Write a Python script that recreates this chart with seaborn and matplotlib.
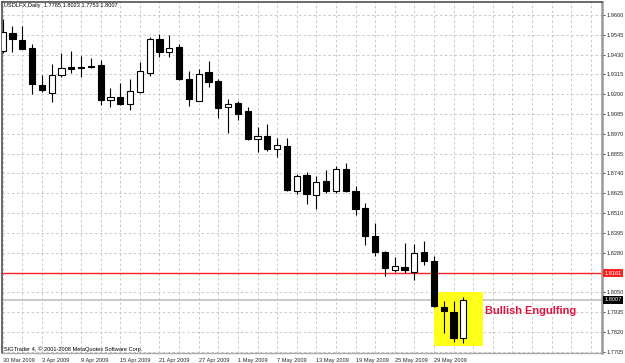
import pandas as pd
import matplotlib.pyplot as plt
import matplotlib.patches as mpatches
import matplotlib.transforms as mtransforms
import seaborn as sns

# Daily candles, USDLFX, from 30 Mar 2009 (one per weekday)
symbol = 'USDLFX,Daily'
opens = [1.9453, 1.9557, 1.9515, 1.9468, 1.9252, 1.9209, 1.9310, 1.9356, 1.9358, 1.9356,
         1.9370, 1.9166, 1.9182, 1.9143, 1.9213, 1.9321, 1.9521, 1.9443, 1.9472, 1.9288,
         1.9162, 1.9331, 1.9277, 1.9124, 1.9147, 1.9103, 1.8938, 1.8959, 1.8882, 1.8899,
         1.8640, 1.8731, 1.8615, 1.8696, 1.8640, 1.8766, 1.8638, 1.8538, 1.8377, 1.8282,
         1.8179, 1.8198, 1.8170, 1.8282, 1.8232, 1.7965, 1.7937, 1.7785]
highs = [1.9635, 1.9596, 1.9596, 1.9490, 1.9311, 1.9374, 1.9438, 1.9451, 1.9424, 1.9408,
         1.9399, 1.9234, 1.9263, 1.9287, 1.9389, 1.9530, 1.9548, 1.9546, 1.9492, 1.9333,
         1.9348, 1.9393, 1.9290, 1.9171, 1.9162, 1.9124, 1.9008, 1.9027, 1.8947, 1.8947,
         1.8737, 1.8747, 1.8725, 1.8760, 1.8783, 1.8802, 1.8667, 1.8567, 1.8454, 1.8291,
         1.8257, 1.8338, 1.8330, 1.8349, 1.8260, 1.7999, 1.7999, 1.8023]
lows = [1.9440, 1.9447, 1.9462, 1.9201, 1.9215, 1.9156, 1.9300, 1.9321, 1.9298, 1.9355,
        1.9135, 1.9127, 1.9140, 1.9108, 1.9210, 1.9307, 1.9414, 1.9418, 1.9283, 1.9132,
        1.9160, 1.9240, 1.9062, 1.8973, 1.9050, 1.8937, 1.8866, 1.8872, 1.8837, 1.8638,
        1.8619, 1.8561, 1.8532, 1.8628, 1.8628, 1.8635, 1.8499, 1.8325, 1.8261, 1.8145,
        1.8170, 1.8160, 1.8121, 1.8208, 1.7967, 1.7811, 1.7763, 1.7753]
closes = [1.9560, 1.9522, 1.9464, 1.9259, 1.9224, 1.9310, 1.9354, 1.9348, 1.9352, 1.9365,
          1.9166, 1.9182, 1.9143, 1.9219, 1.9336, 1.9519, 1.9443, 1.9467, 1.9287, 1.9172,
          1.9317, 1.9269, 1.9122, 1.9143, 1.9085, 1.8938, 1.8957, 1.8880, 1.8905, 1.8644,
          1.8727, 1.8619, 1.8689, 1.8638, 1.8764, 1.8638, 1.8534, 1.8377, 1.8286, 1.8189,
          1.8202, 1.8179, 1.8276, 1.8232, 1.7970, 1.7942, 1.7786, 1.8007]

price_ticks = [1.9660, 1.9545, 1.9430, 1.9315, 1.9200, 1.9085, 1.8970, 1.8855, 1.8740,
               1.8625, 1.8510, 1.8395, 1.8280, 1.8050, 1.7935, 1.7820, 1.7705]
date_labels = ['30 Mar 2009', '3 Apr 2009', '9 Apr 2009', '15 Apr 2009', '21 Apr 2009',
               '27 Apr 2009', '1 May 2009', '7 May 2009', '13 May 2009', '19 May 2009',
               '25 May 2009', '29 May 2009']
bid_line = 1.8161
pattern_name = 'Bullish Engulfing'
copyright_text = 'SIGTrader 4, \u00a9 2001-2008 MetaQuotes Software Corp.'

sns.set_theme(style='white')
plt.rcParams['font.family'] = ['Liberation Sans', 'DejaVu Sans']

df = pd.DataFrame({'open': opens, 'high': highs, 'low': lows, 'close': closes})
df['date'] = pd.bdate_range('2009-03-30', periods=len(df))
df['bar'] = range(len(df))
df['up'] = df['close'] >= df['open']

fig = plt.figure(figsize=(6.25, 3.63), dpi=100)
ax = fig.add_axes([2 / 625, 10 / 363, 600 / 625, 351 / 363])

# grid
ax.set_xticks(range(0, 62, 2), minor=True)
ax.grid(True, which='both', axis='x', color='#cdc6c6', lw=0.7, ls=(0, (2.5, 2.5)), zorder=0)
ax.grid(True, which='major', axis='y', color='#cdc6c6', lw=0.7, ls=(0, (2.5, 2.5)), zorder=0)

# level lines
ax.axhline(closes[-1], color='#c8c8c8', lw=1.4, zorder=1)
ax.axhline(bid_line, color='#ff2020', lw=1.0, zorder=1)

# highlight box for the pattern
ax.add_patch(mpatches.Rectangle((44, 1.7739), 5.0, 0.0310, facecolor='#ffff1a',
                                edgecolor='none', zorder=2))

# candles
ax.vlines(df['bar'], df['low'], df['high'], color='black', lw=0.8, zorder=3)
body = (df['close'] - df['open']).abs().clip(lower=0.00012)
bottom = df[['open', 'close']].min(axis=1)
ax.bar(df['bar'], body, bottom=bottom, width=0.64,
       color=['white' if u else 'black' for u in df['up']],
       edgecolor='black', linewidth=0.8, zorder=4)

ax.text(49.2, 1.7940, pattern_name, color='#dc143c', fontsize=7.9, fontweight='bold',
        va='center', ha='left', zorder=5)

ax.set_xlim(-0.07, 61.15)
ax.set_ylim(1.76975, 1.97355)

# axes / ticks
tick_pos = [df.index[df['date'] == pd.to_datetime(d)][0] for d in date_labels]
ax.set_xticks(tick_pos)
ax.set_xticklabels(date_labels, ha='left', fontsize=4.1)
ax.tick_params(axis='x', which='major', length=2.5, width=0.6, pad=1, color='#333333')
ax.tick_params(axis='x', which='minor', length=0)
ax.yaxis.tick_right()
ax.set_yticks(price_ticks)
ax.set_yticklabels([f'{p:.4f}' for p in price_ticks], fontsize=4.1)
ax.tick_params(axis='y', length=2, width=0.6, pad=1, color='#333333', right=True, left=False)

for side in ['left', 'top']:
    ax.spines[side].set_color('#505050')
    ax.spines[side].set_linewidth(1.2)
ax.spines['right'].set_color('#999999')
ax.spines['right'].set_linewidth(1.8)
ax.spines['bottom'].set_color('#aaaaaa')
ax.spines['bottom'].set_linewidth(1.0)

# price labels on the right axis
trans = mtransforms.blended_transform_factory(ax.transAxes, ax.transData)
ax.text(1.004, bid_line, f'{bid_line:.4f}', transform=trans, fontsize=4.1, color='white',
        va='center', ha='left', clip_on=False, zorder=6,
        bbox=dict(boxstyle='square,pad=0.25', fc='#ff2020', ec='none'))
ax.text(1.004, closes[-1], f'{closes[-1]:.4f}', transform=trans, fontsize=4.1, color='white',
        va='center', ha='left', clip_on=False, zorder=6,
        bbox=dict(boxstyle='square,pad=0.25', fc='black', ec='none'))

title = f'{symbol}  {opens[-1]:.4f} {highs[-1]:.4f} {lows[-1]:.4f} {closes[-1]:.4f}'
fig.text(3.5 / 625, 1 - 3.5 / 363, title, fontsize=4.1, va='top', ha='left', color='black')
fig.text(3.5 / 625, 1 - 350.5 / 363, copyright_text, fontsize=4.1, va='baseline', ha='left',
         color='black')

fig.savefig('out.png', dpi=100)
